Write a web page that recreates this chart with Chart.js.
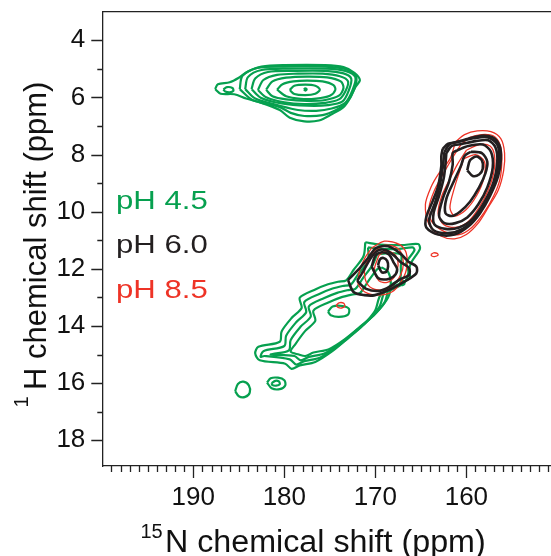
<!DOCTYPE html>
<html>
<head>
<meta charset="utf-8">
<script src="https://cdn.jsdelivr.net/npm/chart.js@4"></script>
<style>
  body { margin: 0; background: #fff; }
  #wrap { width: 551px; height: 556px; }
</style>
</head>
<body>
<div id="wrap"><canvas id="nmr" width="551" height="556"></canvas></div>
<script>
// axis ticks (ppm)
const xTickValues = [190, 180, 170, 160];
const yTickValues = [4, 6, 8, 10, 12, 14, 16, 18];

// contour lines, each as [15N ppm, 1H ppm] points
const ph45Contours = [
    // upfield peak near 178 / 5.7
    [[177.85,5.72],[177.7,5.68],[177.55,5.72],[177.7,5.76]],
    [[179.4,5.74],[178.9,5.59],[177.7,5.55],[176.6,5.59],[176.1,5.73],[176.6,5.87],[177.7,5.92],[178.9,5.88]],
    [[180.8,5.73],[180.2,5.54],[179,5.44],[177.5,5.41],[175.8,5.44],[174.6,5.57],[174.4,5.74],[175.0,5.94],[176.5,6.04],[178.2,6.05],[179.8,5.96]],
    [[182.0,5.73],[181.3,5.44],[179.8,5.31],[177.5,5.27],[175.3,5.3],[173.8,5.44],[173.5,5.67],[174.0,5.94],[175.5,6.09],[177.5,6.12],[179.8,6.07],[181.3,5.96]],
    [[182.9,5.74],[182.3,5.39],[180.8,5.21],[178.5,5.17],[175.8,5.17],[173.9,5.26],[173.0,5.44],[173.3,5.79],[174.0,6.07],[175.5,6.19],[177.8,6.23],[180.0,6.17],[182.0,5.99]],
    [[183.6,5.71],[183.2,5.34],[181.8,5.11],[179.0,5.07],[175.5,5.07],[173.5,5.16],[172.65,5.34],[172.9,5.74],[173.6,6.14],[175.2,6.27],[177.5,6.29],[180.3,6.21],[182.6,6.01]],
    [[184.3,5.71],[184.0,5.29],[182.5,5.04],[179.5,4.99],[175.5,4.99],[173.3,5.07],[172.2,5.29],[172.5,5.74],[173.3,6.19],[174.8,6.39],[176.5,6.47],[178.5,6.44],[180.5,6.29],[183.2,6.04]],
    [[184.9,5.71],[184.6,5.24],[183.0,4.97],[180.0,4.92],[175.5,4.92],[173.2,5.01],[172.1,5.27],[172.3,5.69],[173.2,6.19],[174.3,6.44],[175.8,6.62],[177.8,6.65],[179.3,6.54],[180.5,6.34],[183.5,6.09]],
    [[187.6,5.71],[187.3,5.54],[186.0,5.47],[185.0,5.31],[184.0,5.09],[182.5,4.92],[180.0,4.87],[175.5,4.87],[173.5,4.94],[172.3,5.14],[171.7,5.39],[172.2,5.64],[172.8,6.04],[173.5,6.34],[174.8,6.59],[176.2,6.81],[177.8,6.84],[179.4,6.71],[180.5,6.44],[182.5,6.19],[184.2,6.04],[185.5,5.89],[187.0,5.87]],
    [[186.7,5.72],[186.3,5.64],[185.7,5.67],[185.6,5.77],[186.0,5.82],[186.5,5.79]],
    // diagonal ridge 165-184 / 11-15.5
    [[171.1,11.07],[169.5,11.15],[167.1,11.17],[165.3,11.13],[165.1,11.3],[166.1,11.81],[166.7,12.44],[168.0,12.7],[169.4,12.9],[170.05,13.48],[171.5,14.02],[173.0,14.43],[174.8,14.9],[176.6,15.26],[178.3,15.38],[179.2,15.5],[179.9,15.32],[182.7,15.2],[183.2,14.96],[182.85,14.73],[180.5,14.55],[180.3,14.19],[179.2,13.72],[178.1,13.37],[178.3,13.01],[176.6,12.72],[175.2,12.54],[174.1,12.45],[173.2,12.4],[172.4,12.04],[171.3,11.56]],
    [[170.8,11.25],[169.5,11.3],[167.4,11.3],[165.9,11.25],[165.7,11.35],[166.6,11.8],[166.2,12.3],[167.5,12.55],[168.9,12.75],[169.55,13.33],[171.0,13.87],[172.5,14.28],[174.3,14.75],[176.1,15.11],[177.8,15.23],[178.7,15.35],[179.4,15.17],[182.2,15.05],[182.6,15.08],[182.3,14.88],[180.0,14.7],[179.8,14.34],[178.7,13.87],[177.6,13.52],[177.8,13.16],[176.1,12.87],[174.7,12.69],[173.6,12.6],[172.7,12.55],[171.9,12.19],[170.8,11.71]],
    [[169.8,11.5],[168.5,11.45],[167.2,11.5],[167.2,11.9],[167.3,12.35],[168.4,12.6],[169.0,13.18],[170.5,13.72],[172.0,14.13],[173.8,14.6],[175.6,14.96],[177.3,15.08],[178.2,15.2],[178.9,15.05],[181.5,15.0],[181.3,14.98],[179.5,14.85],[179.3,14.49],[178.2,14.02],[177.1,13.67],[177.3,13.31],[175.6,13.02],[174.2,12.84],[173.1,12.75],[172.2,12.7],[171.4,12.34],[170.3,11.86]],
    [[169.3,11.95],[168.6,12.1],[168.3,12.5],[168.6,13.0],[170.0,13.57],[171.5,13.98],[173.3,14.45],[175.1,14.81],[176.8,14.93],[177.7,15.05],[178.4,15.0],[179.3,14.9],[178.8,14.64],[177.7,14.17],[176.6,13.82],[176.8,13.46],[175.1,13.17],[173.7,12.99],[172.6,12.9],[171.7,12.85],[170.9,12.49],[169.8,12.01]],
    [[175.2,13.5],[174.7,13.32],[173.6,13.3],[172.9,13.4],[173.0,13.6],[174.0,13.68],[174.9,13.62]],
    [[167.3,12.45],[167.0,12.42],[166.8,12.52],[167.1,12.57]],
    // small peaks near 16 ppm
    [[185.4,16.28],[185.1,16.03],[184.5,15.95],[183.9,16.08],[183.8,16.33],[184.3,16.48],[185.0,16.46]],
    [[181.9,15.98],[181.5,15.83],[180.7,15.81],[180.0,15.9],[179.9,16.08],[180.5,16.21],[181.4,16.18]],
    [[181.4,16.0],[181.0,15.92],[180.6,15.94],[180.5,16.04],[180.9,16.09],[181.3,16.07]]
];

const ph60Contours = [
    // peak near 159 / 8.5
    [[159.9,8.55],[159.6,8.2],[158.9,8.07],[158.3,8.2],[158.2,8.5],[158.6,8.7],[159.3,8.75]],
    [[159.5,7.9],[158.3,7.95],[157.7,8.25],[157.9,8.65],[158.6,9.15],[159.6,9.65],[160.7,10.0],[161.6,10.15],[162.3,10.05],[162.2,9.55],[161.4,8.95],[160.6,8.4],[160.2,8.05]],
    [[161.0,7.85],[159.8,7.7],[158.2,7.65],[157.3,7.9],[157.1,8.45],[157.7,9.15],[158.7,9.75],[159.9,10.2],[161.2,10.4],[162.4,10.4],[163.0,10.15],[162.6,9.55],[161.9,8.95],[161.5,8.35],[161.5,7.95]],
    [[162.2,7.95],[161.6,7.7],[160.5,7.63],[159.0,7.53],[157.6,7.5],[156.8,7.75],[156.6,8.25],[157.0,8.95],[158.0,9.65],[159.3,10.25],[160.8,10.55],[162.3,10.6],[163.5,10.45],[163.6,10.05],[163.0,9.45],[162.5,8.85],[162.3,8.35]],
    [[162.4,7.9],[161.8,7.63],[160.6,7.53],[159.2,7.43],[157.6,7.4],[156.6,7.65],[156.4,8.15],[156.8,8.85],[157.7,9.55],[158.9,10.2],[160.4,10.6],[162.0,10.75],[163.6,10.65],[164.1,10.3],[163.4,9.65],[162.9,9.05],[162.6,8.45]],
    [[162.6,7.8],[162.0,7.62],[161.1,7.57],[159.8,7.45],[158.4,7.34],[157.1,7.4],[156.35,7.69],[156.2,8.15],[156.5,8.75],[157.4,9.45],[158.5,10.05],[159.8,10.52],[161.3,10.8],[163.1,10.8],[164.4,10.55],[164.4,10.18],[163.7,9.63],[163.1,9.1],[162.75,8.4],[162.75,8.05]],
    // peak near 169 / 11.9
    [[169.7,11.87],[169.5,11.67],[169.1,11.62],[168.7,11.72],[168.6,11.92],[168.8,12.1],[169.3,12.12]],
    [[170.4,11.92],[170.0,11.54],[169.3,11.42],[168.5,11.5],[168.0,11.77],[167.6,12.02],[168.0,12.27],[168.8,12.37],[169.7,12.32]],
    [[172.0,12.42],[171.3,12.07],[170.6,11.67],[169.8,11.37],[168.9,11.34],[168.0,11.52],[167.2,11.77],[166.3,11.97],[166.3,12.22],[167.3,12.37],[168.4,12.62],[169.5,12.77],[171.0,12.7]],
    [[173.0,12.39],[172.4,12.81],[171.2,12.92],[170.05,12.92],[168.2,12.69],[166.8,12.45],[165.5,12.16],[165.5,11.92],[166.4,11.74],[167.3,11.45],[168.6,11.21],[169.9,11.27],[170.8,11.62],[171.9,12.04]]
];

const ph85Contours = [
    [[161.2,7.56],[160.2,7.3],[158.8,7.17],[157.3,7.2],[156.2,7.45],[155.8,7.95],[155.9,8.55],[156.5,9.25],[157.6,9.85],[158.7,10.4],[160.0,10.8],[161.3,10.95],[162.8,10.85],[164.1,10.45],[164.5,9.75],[163.9,9.15],[163.0,8.65],[161.8,8.15]],
    [[160.6,7.65],[159.6,7.4],[158.3,7.3],[157.0,7.35],[156.3,7.65],[156.1,8.15],[156.3,8.85],[157.0,9.45],[158.1,10.05],[159.4,10.55],[160.8,10.8],[162.4,10.7],[163.8,10.35],[164.1,9.85],[163.5,9.25],[162.5,8.65],[161.4,8.05]],
    [[160.0,7.85],[158.6,7.65],[157.4,7.7],[156.9,8.05],[157.0,8.65],[157.6,9.25],[158.6,9.85],[159.8,10.35],[161.2,10.55],[162.5,10.45],[163.1,10.05],[162.7,9.45],[161.8,8.85],[161.0,8.35]],
    [[160.3,8.15],[159.0,8.0],[158.0,8.25],[158.1,8.85],[158.9,9.45],[160.1,9.95],[161.3,10.15],[161.8,9.85],[161.3,9.15],[160.7,8.55]],
    [[170.4,11.27],[169.0,11.03],[167.3,11.15],[166.6,11.45],[166.6,12.04],[167.3,12.52],[168.2,12.81],[169.7,12.92],[171.15,12.81],[171.9,12.52],[171.7,12.04],[171.15,11.62]],
    [[170.0,11.37],[168.9,11.17],[167.6,11.27],[167.0,11.57],[167.0,12.02],[167.6,12.42],[168.5,12.67],[169.7,12.74],[170.8,12.57],[171.2,12.12],[170.8,11.67]],
    [[169.6,11.52],[168.7,11.37],[167.8,11.52],[167.5,11.87],[167.9,12.27],[168.7,12.47],[169.6,12.42],[170.1,12.02]],
    [[174.3,13.28],[174.0,13.19],[173.5,13.2],[173.35,13.3],[173.7,13.37],[174.1,13.35]],
    [[163.9,11.5],[163.6,11.44],[163.2,11.46],[163.1,11.52],[163.5,11.57],[163.8,11.55]]
];

const legendLabels = ['pH 4.5', 'pH 6.0', 'pH 8.5'];

const FONT = '"Liberation Sans", Arial, Helvetica, sans-serif';
const GREEN = '#06a04f';
const BLACK = '#231f20';
const RED = '#ee3326';

function contourSets(contours, color, width, order) {
    return contours.map(c => ({
        data: c.concat([c[0]]).map(p => ({x: p[0], y: p[1]})),
        showLine: true,
        borderColor: color,
        borderWidth: width,
        pointRadius: 0,
        tension: 0.3,
        fill: false,
        order: order
    }));
}

// ticks, top frame line, axis titles and the pH labels
const decorations = {
    id: 'decorations',
    afterDraw(chart) {
        const ctx = chart.ctx;
        const area = chart.chartArea;
        const xs = chart.scales.x;
        const ys = chart.scales.y;
        ctx.save();
        ctx.strokeStyle = '#222';
        ctx.lineWidth = 1.3;
        ctx.beginPath();
        ctx.moveTo(area.left, area.top);
        ctx.lineTo(area.right, area.top);
        for (let v = 151; v <= 199; v++) {
            const px = Math.round(xs.getPixelForValue(v)) + 0.5;
            const len = v % 10 === 0 ? 12 : 6;
            ctx.moveTo(px, area.bottom);
            ctx.lineTo(px, area.bottom + len);
        }
        for (let v = 4; v <= 18; v++) {
            const py = Math.round(ys.getPixelForValue(v)) + 0.5;
            const len = v % 2 === 0 ? 11 : 5;
            ctx.moveTo(area.left, py);
            ctx.lineTo(area.left - len, py);
        }
        ctx.stroke();

        // axis titles
        ctx.fillStyle = '#111';
        ctx.textBaseline = 'alphabetic';
        ctx.textAlign = 'left';
        ctx.font = '20px ' + FONT;
        ctx.fillText('15', 140.5, 537.6);
        ctx.save();
        ctx.translate(165, 551.7);
        ctx.scale(1.04, 1);
        ctx.font = '31px ' + FONT;
        ctx.fillText('N chemical shift (ppm)', 0, 0);
        ctx.restore();

        ctx.save();
        ctx.translate(28, 407.6);
        ctx.rotate(-Math.PI / 2);
        ctx.font = '20px ' + FONT;
        ctx.fillText('1', 0, 0);
        ctx.restore();
        ctx.save();
        ctx.translate(45.7, 390);
        ctx.rotate(-Math.PI / 2);
        ctx.font = '31px ' + FONT;
        ctx.fillText('H chemical shift (ppm)', 0, 0);
        ctx.restore();

        // pH labels
        const colors = [GREEN, BLACK, RED];
        const baselines = [208.5, 253.3, 298];
        ctx.font = '25px ' + FONT;
        legendLabels.forEach((label, i) => {
            ctx.save();
            ctx.translate(116, baselines[i]);
            ctx.scale(1.245, 1);
            ctx.fillStyle = colors[i];
            ctx.fillText(label, 0, 0);
            ctx.restore();
        });
        ctx.restore();
    }
};

new Chart(document.getElementById('nmr'), {
    type: 'scatter',
    data: {
        datasets: []
            .concat(contourSets(ph45Contours, GREEN, 2.2, 2))
            .concat(contourSets(ph85Contours, RED, 1.3, 1))
            .concat(contourSets(ph60Contours, BLACK, 2.6, 0))
    },
    options: {
        responsive: false,
        animation: false,
        events: [],
        layout: {padding: {left: 0, top: 11.7, right: 0, bottom: 0}},
        plugins: {legend: {display: false}, tooltip: {enabled: false}},
        scales: {
            x: {
                type: 'linear',
                reverse: true,
                min: 150.7,
                max: 200,
                afterBuildTicks: s => { s.ticks = xTickValues.map(v => ({value: v})); },
                afterFit: s => { s.height = 90; s.paddingLeft = 0; s.paddingRight = 0; },
                grid: {display: false, drawTicks: false},
                border: {display: true, color: '#222', width: 1.3},
                ticks: {font: {family: FONT, size: 26}, color: '#111', padding: 16, maxRotation: 0, autoSkip: false}
            },
            y: {
                type: 'linear',
                reverse: true,
                min: 3,
                max: 18.9,
                afterBuildTicks: s => { s.ticks = yTickValues.map(v => ({value: v})); },
                afterFit: s => { s.width = 102.3; s.paddingTop = 0; s.paddingBottom = 0; },
                grid: {display: false, drawTicks: false},
                border: {display: true, color: '#222', width: 1.3},
                ticks: {font: {family: FONT, size: 26}, color: '#111', padding: 17, autoSkip: false}
            }
        }
    },
    plugins: [decorations]
});
</script>
</body>
</html>
